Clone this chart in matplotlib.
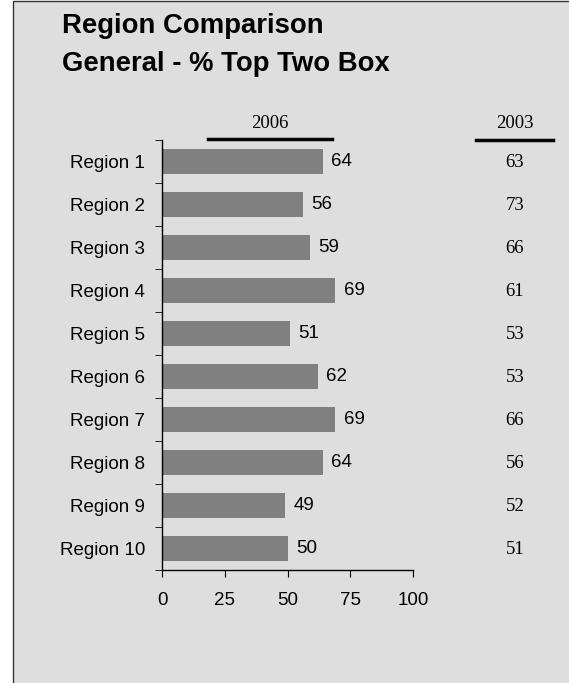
import matplotlib
matplotlib.use("Agg")
import matplotlib.pyplot as plt
import matplotlib.transforms as mtransforms
from matplotlib.patches import Rectangle
from matplotlib.lines import Line2D
import numpy as np

regions = ["Region 1", "Region 2", "Region 3", "Region 4", "Region 5",
           "Region 6", "Region 7", "Region 8", "Region 9", "Region 10"]
values_2006 = [64, 56, 59, 69, 51, 62, 69, 64, 49, 50]
values_2003 = [63, 73, 66, 61, 53, 53, 66, 56, 52, 51]
xticks = [0, 25, 50, 75, 100]
title_lines = ["Region Comparison", "General - % Top Two Box"]

W, H = 569, 683
fig = plt.figure(figsize=(W / 100, H / 100), dpi=100, facecolor="white")

def fx(px):
    return px / W

def fy(py):
    return 1 - py / H

SANS = "Liberation Sans"
SERIF = "Liberation Serif"
FS = 13.5
FS_SERIF = 13.5

# background frame
fig.patches.append(Rectangle((fx(13), fy(700)), fx(600), fy(1) - fy(700),
                             transform=fig.transFigure, facecolor="#dedede",
                             edgecolor="#333333", linewidth=1, zorder=-10))

ax = fig.add_axes([fx(162), fy(570), fx(413) - fx(162), fy(140) - fy(570)])
ax.set_zorder(5)
ax.set_facecolor("none")
y = np.arange(len(regions))
ax.barh(y, values_2006, height=0.6, color="#808080", zorder=2)
ax.set_ylim(len(regions) - 0.5, -0.5)
ax.set_xlim(0, 100)
for s in ["top", "right"]:
    ax.spines[s].set_visible(False)
for s in ["left", "bottom"]:
    ax.spines[s].set_color("black")
    ax.spines[s].set_linewidth(1)

ax.set_yticks(y)
ax.set_yticklabels(regions, fontsize=FS, family=SANS)
ax.tick_params(axis="y", which="major", length=0, pad=12)
ax.set_yticks(np.arange(-0.5, len(regions)), minor=True)
ax.tick_params(axis="y", which="minor", length=5, direction="out", color="black")
ax.set_xticks(xticks)
ax.set_xticklabels([str(t) for t in xticks], fontsize=FS, family=SANS)
ax.tick_params(axis="x", length=5, direction="out", pad=11, color="black")

for yi, v in zip(y, values_2006):
    ax.annotate(str(v), (v, yi), xytext=(6, 0), textcoords="offset points",
                va="center", ha="left", fontsize=FS, family=SANS)

blend = mtransforms.blended_transform_factory(fig.transFigure, ax.transData)
for yi, v in zip(y, values_2003):
    ax.text(fx(515), yi + 0.03, str(v), transform=blend,
            ha="center", va="center", fontsize=FS_SERIF, family=SERIF)

# column headers
fig.text(fx(270), fy(124), "2006", ha="center", va="center", fontsize=FS_SERIF, family=SERIF)
fig.add_artist(Line2D([fx(208), fx(332)], [fy(139), fy(139)], color="black", linewidth=2.5,
                      transform=fig.transFigure))
fig.text(fx(515), fy(123), "2003", ha="center", va="center", fontsize=FS_SERIF, family=SERIF)
fig.add_artist(Line2D([fx(476), fx(553)], [fy(140), fy(140)], color="black", linewidth=2.5,
                      transform=fig.transFigure))

# title
fig.text(fx(62), fy(26), title_lines[0], ha="left", va="center", fontsize=19.8,
         fontweight="bold", family=SANS)
fig.text(fx(62), fy(64), title_lines[1], ha="left", va="center", fontsize=19.8,
         fontweight="bold", family=SANS)

fig.savefig("out.png", dpi=100, facecolor="white")
